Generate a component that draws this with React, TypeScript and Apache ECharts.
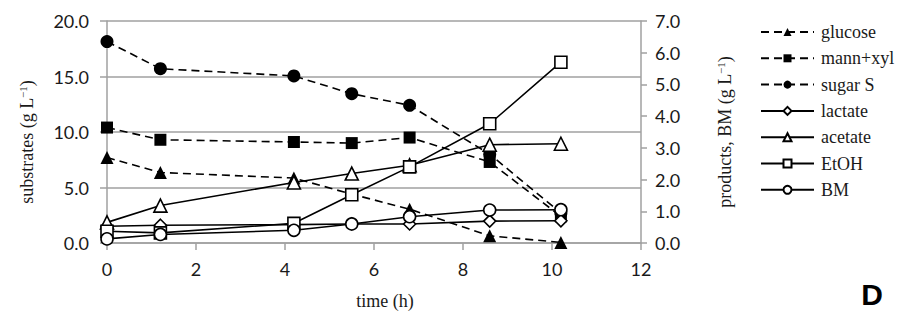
import React, { useEffect, useRef } from "react";
import * as echarts from "echarts";

const times = [0, 1.2, 4.2, 5.5, 6.8, 8.6, 10.2];
// substrates (left axis, g/L)
const glucose = [7.7, 6.35, 5.85, 4.4, 3.05, 0.65, 0.05];
const mannXyl = [10.4, 9.3, 9.1, 9.0, 9.5, 7.3, 2.4];
const sugarS = [18.15, 15.7, 15.05, 13.45, 12.4, 8.0, 2.7];
// products (right axis, g/L)
const lactate = [0.53, 0.56, 0.58, 0.6, 0.6, 0.69, 0.7];
const acetate = [0.65, 1.18, 1.91, 2.19, 2.45, 3.1, 3.13];
const etoh = [0.37, 0.32, 0.62, 1.52, 2.4, 3.76, 5.7];
const bm = [0.13, 0.27, 0.4, 0.6, 0.83, 1.04, 1.05];

const legendNames = ["glucose", "mann+xyl", "sugar S", "lactate", "acetate", "EtOH", "BM"];

const xTicks = { min: 0, max: 12, interval: 2 };
const yLeftTicks = { min: 0, max: 20, interval: 5 };
const yRightTicks = { min: 0, max: 7, interval: 1 };

const GRAY = "#a0a0a0";
const TXT = "#1a1a1a";
const SANS = "Lato";
const SERIF = "Liberation Serif";

function pts(vals: number[]) {
  return times.map((t, i) => [t, vals[i]]);
}

function richTitle(main: string) {
  return {
    text: `{a|${main} (g L}{s|\u22121}{a|)}`,
    rich: {
      a: { fontFamily: SERIF, fontSize: 18, lineHeight: 20, fill: TXT, color: TXT },
      s: { fontFamily: SERIF, fontSize: 11, lineHeight: 12, verticalAlign: "top", fill: TXT, color: TXT },
    },
    fontFamily: SERIF,
    fontSize: 18,
    fill: TXT,
    align: "center",
    verticalAlign: "middle",
  };
}

export default function App() {
  const ref = useRef<HTMLDivElement>(null);
  useEffect(() => {
    if (!ref.current) return;
    const chart = echarts.init(ref.current, null, { renderer: "svg" });
    const mk = (
      name: string,
      vals: number[],
      axis: number,
      symbol: string,
      size: number,
      filled: boolean,
      dashed: boolean
    ) => ({
      name,
      type: "line",
      yAxisIndex: axis,
      data: pts(vals),
      symbol,
      symbolSize: size,
      showSymbol: true,
      lineStyle: {
        color: "#000",
        width: 1.6,
        type: dashed ? [8, 5] : "solid",
      },
      itemStyle: filled
        ? { color: "#000", borderColor: "#000", borderWidth: 0 }
        : { color: "#fff", borderColor: "#000", borderWidth: 1.6 },
      emphasis: { disabled: true },
    });
    chart.setOption({
      animation: false,
      backgroundColor: "#fff",
      textStyle: { fontFamily: SERIF },
      grid: { left: 107, right: 269, top: 21, bottom: 76, containLabel: false },
      xAxis: {
        type: "value",
        ...xTicks,
        axisLine: { show: true, lineStyle: { color: GRAY, width: 1.5 } },
        axisTick: { show: true, inside: false, length: 7, lineStyle: { color: GRAY, width: 1.5 } },
        splitLine: { show: false },
        axisLabel: { color: TXT, fontFamily: SANS, fontSize: 18, margin: 17 },
      },
      yAxis: [
        {
          type: "value",
          position: "left",
          ...yLeftTicks,
          axisLine: { show: true, lineStyle: { color: GRAY, width: 1.5 } },
          axisTick: { show: true, inside: false, length: 7, lineStyle: { color: GRAY, width: 1.5 } },
          splitLine: { show: true, lineStyle: { color: GRAY, width: 1.5 } },
          axisLabel: {
            color: TXT,
            fontFamily: SANS,
            fontSize: 18,
            margin: 18,
            formatter: (v: number) => v.toFixed(1),
          },
        },
        {
          type: "value",
          position: "right",
          ...yRightTicks,
          axisLine: { show: true, lineStyle: { color: GRAY, width: 1.5 } },
          axisTick: { show: true, inside: false, length: 6, lineStyle: { color: GRAY, width: 1.5 } },
          splitLine: { show: false },
          axisLabel: {
            color: TXT,
            fontFamily: SANS,
            fontSize: 18,
            margin: 14,
            formatter: (v: number) => v.toFixed(1),
          },
        },
      ],
      legend: {
        orient: "vertical",
        left: 760,
        top: 23,
        padding: 0,
        itemWidth: 53,
        itemHeight: 10,
        itemGap: 8.3,
        textStyle: {
          fontFamily: SERIF,
          fontSize: 18,
          lineHeight: 18,
          color: TXT,
          padding: [0, 0, 0, 2],
        },
        data: legendNames,
      },
      series: [
        mk(legendNames[0], glucose, 0, "triangle", 13, true, true),
        mk(legendNames[1], mannXyl, 0, "rect", 12, true, true),
        mk(legendNames[2], sugarS, 0, "circle", 13, true, true),
        mk(legendNames[3], lactate, 1, "diamond", 12, false, false),
        mk(legendNames[4], acetate, 1, "triangle", 13, false, false),
        mk(legendNames[5], etoh, 1, "rect", 12, false, false),
        mk(legendNames[6], bm, 1, "circle", 12, false, false),
      ],
      graphic: [
        {
          type: "text",
          x: 27,
          y: 142,
          rotation: Math.PI / 2,
          style: richTitle("substrates"),
        },
        {
          type: "text",
          x: 725,
          y: 132,
          rotation: Math.PI / 2,
          style: richTitle("products, BM"),
        },
        {
          type: "text",
          x: 385,
          y: 301,
          style: {
            text: "time (h)",
            fontFamily: SERIF,
            fontSize: 18,
            fill: TXT,
            align: "center",
            verticalAlign: "middle",
          },
        },
        {
          type: "text",
          x: 872,
          y: 294,
          style: {
            text: "D",
            fontFamily: "Liberation Sans",
            fontWeight: "bold",
            fontSize: 30,
            fill: "#000",
            align: "center",
            verticalAlign: "middle",
          },
        },
      ],
    });
    return () => chart.dispose();
  }, []);
  return (
    <div
      ref={ref}
      style={{ position: "fixed", left: 0, top: 0, width: 910, height: 319, background: "#fff" }}
    />
  );
}
